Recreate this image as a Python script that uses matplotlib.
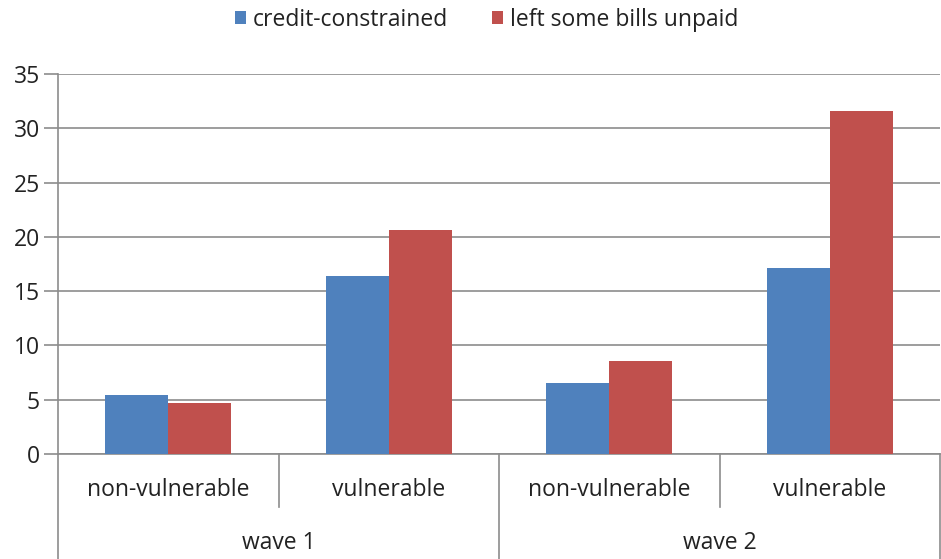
import matplotlib
matplotlib.use("Agg")
import matplotlib.pyplot as plt
import matplotlib.transforms as mtransforms
import numpy as np

# survey shares (%) by wave and household group
groups = ["non-vulnerable", "vulnerable", "non-vulnerable", "vulnerable"]
waves = ["wave 1", "wave 2"]
credit_constrained = [5.4, 16.4, 6.5, 17.1]
bills_unpaid = [4.7, 20.6, 8.6, 31.6]

BLUE = "#4F81BD"
RED = "#C0504D"
LINE = "#8C8C8C"
TEXT = "#222222"
FS = 16.5

plt.rcParams["font.family"] = ["Open Sans", "DejaVu Sans"]

fig = plt.figure(figsize=(9.41, 5.59), dpi=100)
ax = fig.add_axes([58 / 941, 105 / 559, 882 / 941, 380 / 559])

x = np.arange(len(groups))
w = 0.286
ax.bar(x - w / 2, credit_constrained, w, color=BLUE, label="credit-constrained", zorder=3)
ax.bar(x + w / 2, bills_unpaid, w, color=RED, label="left some bills unpaid", zorder=3)

ax.set_xlim(-0.5, len(groups) - 0.5)
ax.set_ylim(0, 35)
ax.set_yticks(range(0, 36, 5))
ax.yaxis.grid(True, color=LINE, linewidth=1.2, zorder=0)
ax.tick_params(axis="y", length=10, width=1.2, color=LINE, labelsize=FS,
               labelcolor=TEXT, pad=3)
ax.set_xticks([])
for side in ["top", "right", "bottom"]:
    ax.spines[side].set_visible(False)
ax.spines["left"].set_color(LINE)
ax.spines["left"].set_linewidth(1.2)

# two-level category axis below the plot
tr = mtransforms.blended_transform_factory(ax.transData, fig.transFigure)
y0 = 105 / 559
y_mid = 52 / 559
for xs in [-0.5, 1.5, 3.5]:
    ax.plot([xs, xs], [y0, 0], color=LINE, lw=1.2, transform=tr, clip_on=False)
for xs in [0.5, 2.5]:
    ax.plot([xs, xs], [y0, y_mid], color=LINE, lw=1.2, transform=tr, clip_on=False)
ax.plot([-0.5, 3.5], [y0, y0], color=LINE, lw=1.2, transform=tr, clip_on=False)

for xi, g in zip(x, groups):
    ax.text(xi, 69 / 559, g, transform=tr, ha="center", va="center",
            fontsize=FS, color=TEXT)
for i, wv in enumerate(waves):
    ax.text(2 * i + 0.5, 16 / 559, wv, transform=tr, ha="center", va="center",
            fontsize=FS, color=TEXT)

fig.legend(loc="center", bbox_to_anchor=(0.517, 1 - 20 / 559), ncol=2, frameon=False,
           fontsize=FS, handlelength=0.5, handleheight=0.5, handletextpad=0.3,
           columnspacing=1.9, labelcolor=TEXT)

fig.savefig("out.png", dpi=100)
